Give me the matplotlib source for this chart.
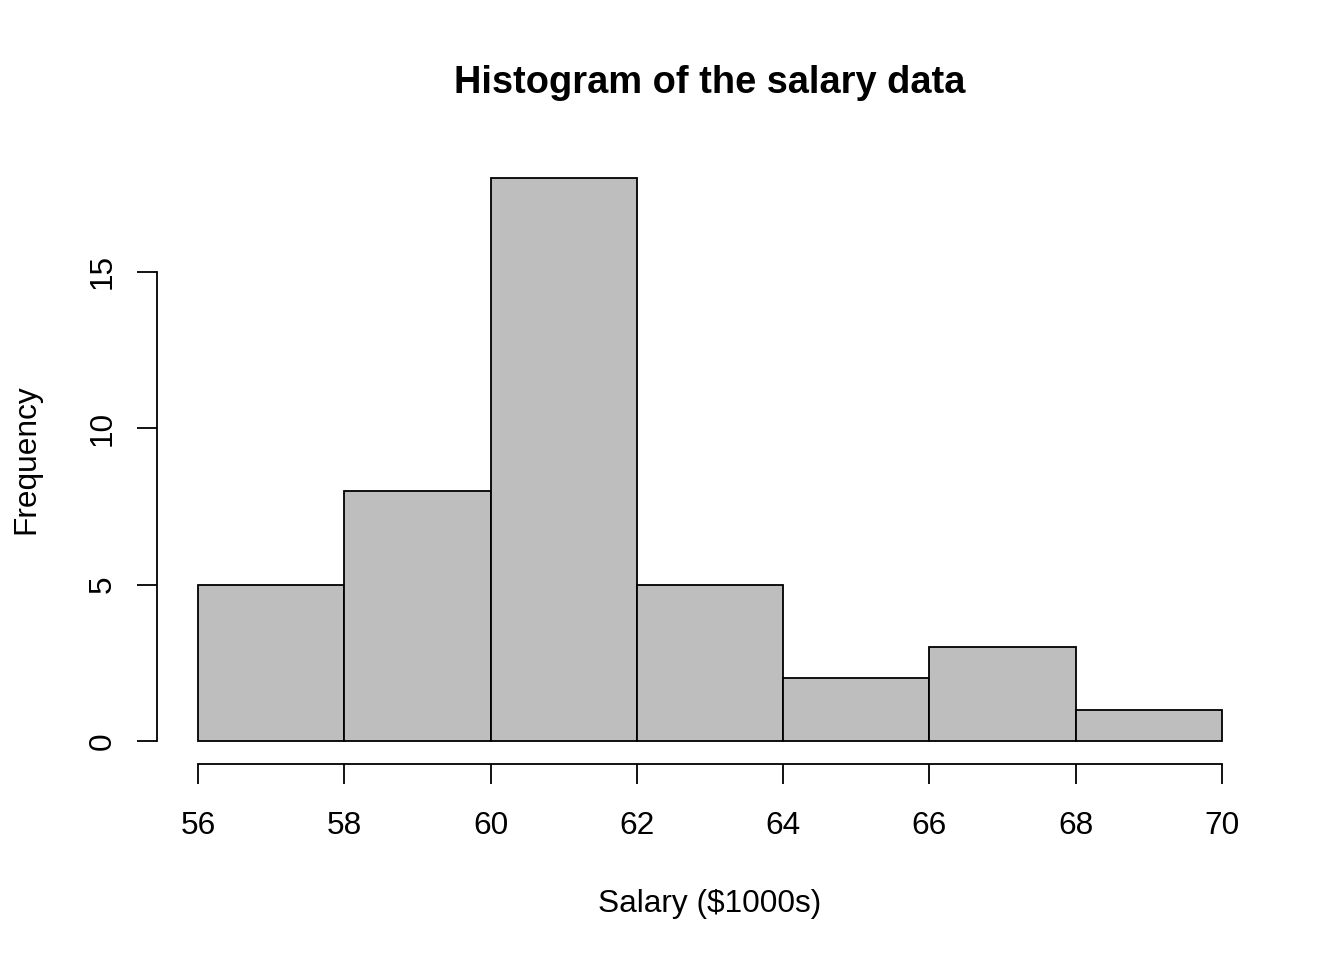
import numpy as np
import matplotlib.pyplot as plt

# histogram bins and counts
bin_edges = [56, 58, 60, 62, 64, 66, 68, 70]
counts = [5, 8, 18, 5, 2, 3, 1]
x_ticks = [56, 58, 60, 62, 64, 66, 68, 70]
y_ticks = [0, 5, 10, 15]

plt.rcParams['font.family'] = ['Liberation Sans', 'DejaVu Sans']

fig = plt.figure(figsize=(13.44, 9.6), dpi=100)
ax = fig.add_axes([157 / 1344, 1 - 763.5 / 960, (1263 - 157) / 1344, (763.5 - 155.5) / 960])

ax.hist(bin_edges[:-1], bins=bin_edges, weights=counts,
        color='#BEBEBE', edgecolor='black', linewidth=1.3)

# R-like axis ranges (4% padding)
ax.set_xlim(55.44, 70.56)
ax.set_ylim(-0.72, 18.72)

for side in ['top', 'right']:
    ax.spines[side].set_visible(False)
ax.spines['bottom'].set_bounds(56, 70)
ax.spines['left'].set_bounds(0, 15)
for side in ['bottom', 'left']:
    ax.spines[side].set_linewidth(1.3)

ax.set_xticks(x_ticks)
ax.set_yticks(y_ticks)
ax.tick_params(axis='both', length=14.4, width=1.3, labelsize=22.8)
ax.tick_params(axis='x', pad=19.5)
ax.tick_params(axis='y', pad=14)
for lab in ax.get_yticklabels():
    lab.set_rotation(90)
    lab.set_va('center')

ax.set_title('Histogram of the salary data', fontsize=27.4, fontweight='bold', pad=45)
ax.set_xlabel('Salary ($1000s)', fontsize=22.8, labelpad=35)
ax.set_ylabel('Frequency', fontsize=22.8, labelpad=33)

fig.savefig('out.png', dpi=100)
